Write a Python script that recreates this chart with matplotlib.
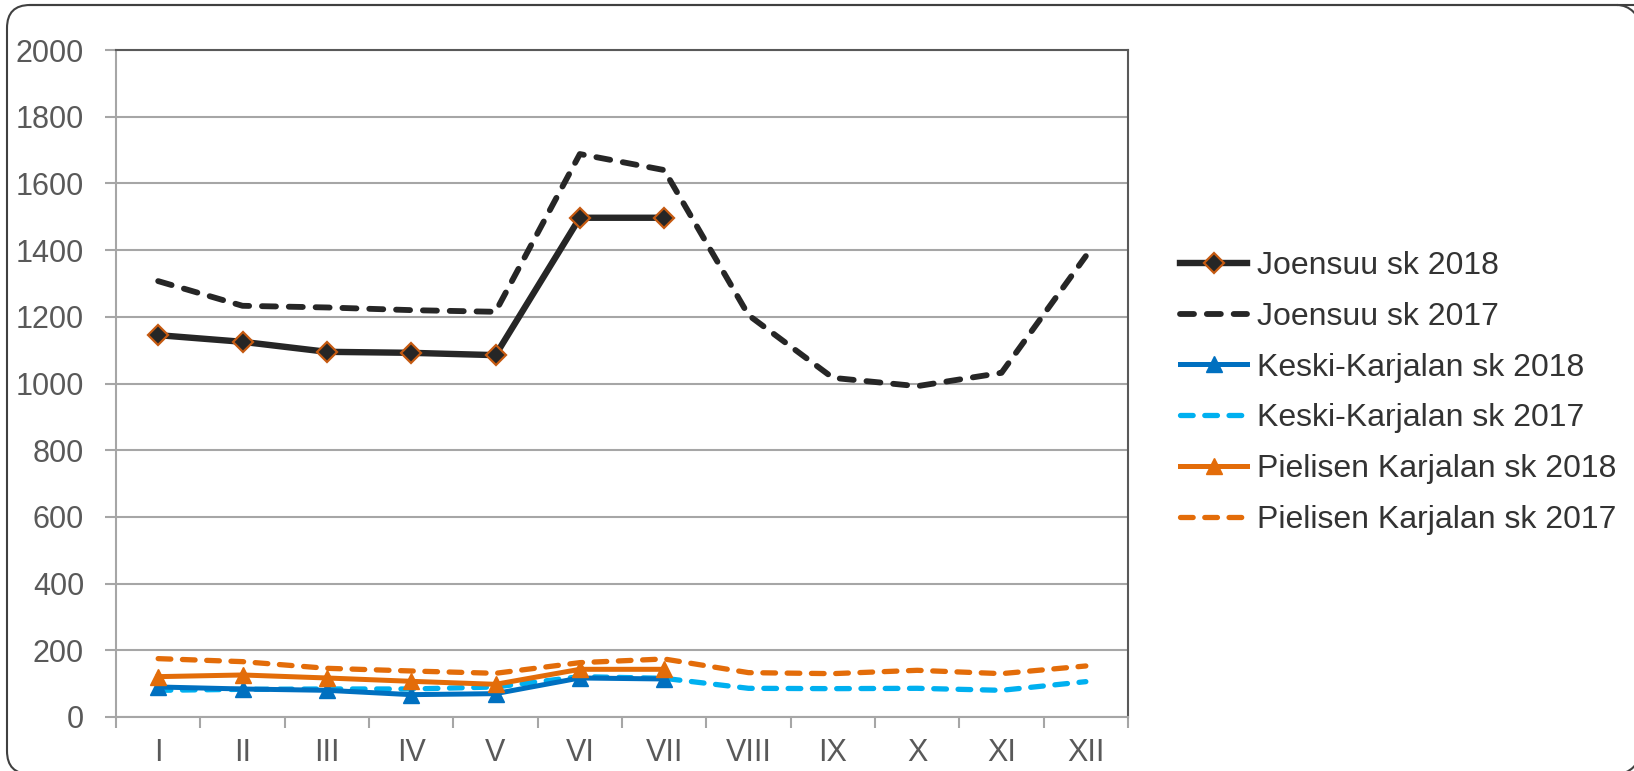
import matplotlib
matplotlib.use("Agg")
import matplotlib.pyplot as plt
from matplotlib.patches import FancyBboxPatch, Arc

months = ["I", "II", "III", "IV", "V", "VI", "VII", "VIII", "IX", "X", "XI", "XII"]

joensuu_2018 = [1145, 1125, 1095, 1092, 1085, 1497, 1497]
joensuu_2017 = [1307, 1233, 1228, 1220, 1215, 1688, 1640, 1205, 1017, 992, 1032, 1382]
keski_2018 = [90, 84, 80, 67, 70, 117, 114]
keski_2017 = [80, 83, 84, 84, 90, 121, 116, 86, 85, 86, 80, 106]
pielisen_2018 = [121, 126, 117, 107, 98, 143, 143]
pielisen_2017 = [175, 166, 146, 138, 131, 163, 174, 133, 130, 140, 130, 153]

y_ticks = list(range(0, 2001, 200))

INK = "#262626"
GRID = "#A6A6A6"
LABEL = "#595959"
FRAME = "#404040"
BLUE = "#0070C0"
LIGHT_BLUE = "#00B0F0"
ORANGE = "#E36C09"
DIAMOND_EDGE = "#C55A11"

plt.rcParams["font.family"] = ["Liberation Sans", "DejaVu Sans"]
plt.rcParams["font.size"] = 22

fig = plt.figure(figsize=(16.34, 7.71), dpi=100)
ax = fig.add_axes([116 / 1634, 1 - 717 / 771, (1128 - 116) / 1634, (717 - 50) / 771])

x = list(range(len(months)))
dash = dict(dashes=(2.4, 2.2), dash_capstyle="round")

ax.plot(x[:len(joensuu_2018)], joensuu_2018, color=INK, lw=4.6, marker="D", ms=10,
        mfc=INK, mec=DIAMOND_EDGE, mew=1.6, label="Joensuu sk 2018", zorder=5)
ax.plot(x, joensuu_2017, color=INK, lw=4.2, label="Joensuu sk 2017", **dash)
ax.plot(x[:len(keski_2018)], keski_2018, color=BLUE, lw=3.6, marker="^", ms=11,
        label="Keski-Karjalan sk 2018", zorder=4)
ax.plot(x, keski_2017, color=LIGHT_BLUE, lw=3.8, label="Keski-Karjalan sk 2017", **dash)
ax.plot(x[:len(pielisen_2018)], pielisen_2018, color=ORANGE, lw=3.6, marker="^", ms=11,
        label="Pielisen Karjalan sk 2018", zorder=4)
ax.plot(x, pielisen_2017, color=ORANGE, lw=3.8, label="Pielisen Karjalan sk 2017", **dash)

ax.set_xlim(-0.5, len(months) - 0.5)
ax.set_ylim(0, 2000)
ax.set_yticks(y_ticks)
ax.set_xticks(x)
ax.set_xticklabels(months)
ax.set_xticks([i - 0.5 for i in range(len(months) + 1)], minor=True)
ax.tick_params(axis="x", which="major", length=0, pad=15, colors=LABEL)
ax.tick_params(axis="x", which="minor", length=8, width=1.5, color=GRID)
ax.tick_params(axis="y", length=8, width=1.5, color=GRID, colors=LABEL, pad=15)
ax.yaxis.grid(True, color=GRID, lw=1.5)
ax.set_axisbelow(True)
for side in ("left", "bottom"):
    ax.spines[side].set_color(GRID)
    ax.spines[side].set_linewidth(1.5)
for side in ("top", "right"):
    ax.spines[side].set_color("#595959")
    ax.spines[side].set_linewidth(1.5)

leg = fig.legend(loc="center left", bbox_to_anchor=(1164 / 1634, 1 - 393 / 771),
                 frameon=False, borderpad=0, handlelength=2.1, handletextpad=0.3,
                 labelspacing=0.65, numpoints=1, fontsize=23)
for t in leg.get_texts():
    t.set_color("#333333")

# outer rounded frame; its right and bottom edges sit just off the canvas
frame = FancyBboxPatch((0.07, -0.03), 17.5, 7.69, boxstyle="round,pad=0,rounding_size=0.23",
                       transform=fig.dpi_scale_trans, facecolor="none",
                       edgecolor=FRAME, lw=1.5)
fig.patches.append(frame)
for cy, t1, t2 in ((7.43, 0, 90), (0.20, 270, 360)):
    fig.patches.append(Arc((16.17, cy), 0.46, 0.46, theta1=t1, theta2=t2,
                           transform=fig.dpi_scale_trans, color=FRAME, lw=1.5))
fig.add_artist(plt.Line2D([0.07 + 0.23, 16.17], [7.66, 7.66], transform=fig.dpi_scale_trans,
                          color=FRAME, lw=1.5))

fig.savefig("out.png", dpi=100)
